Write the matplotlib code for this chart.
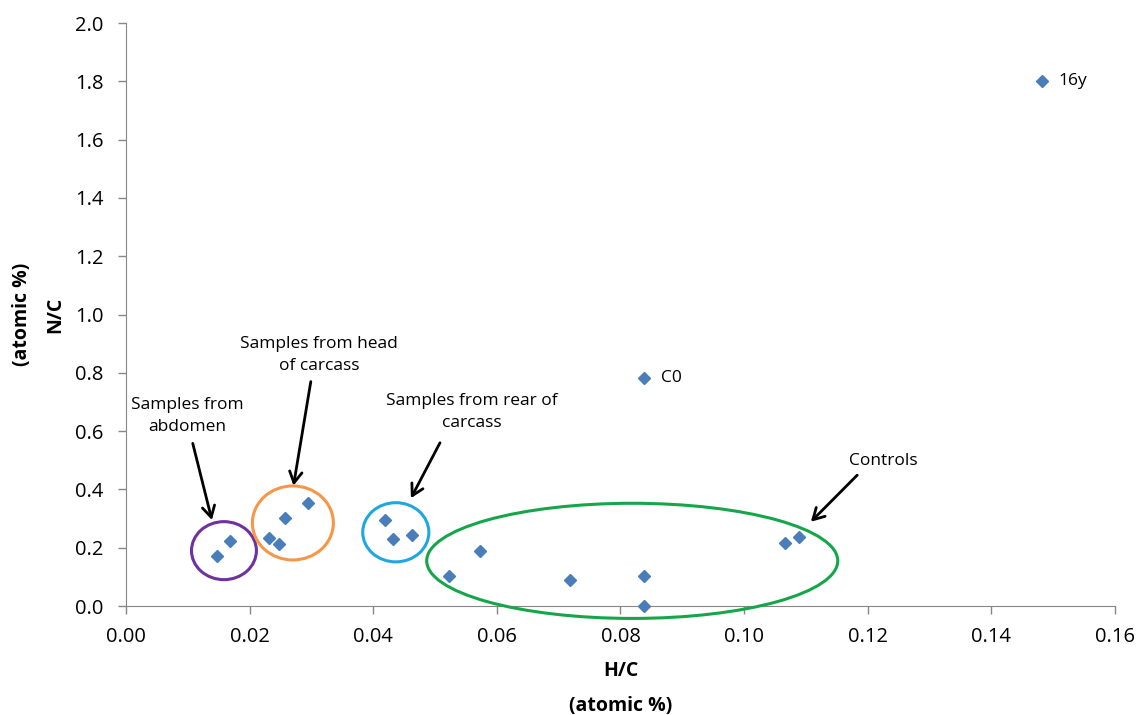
import numpy as np
import matplotlib
matplotlib.use("Agg")
import matplotlib.pyplot as plt
from matplotlib.patches import Ellipse

plt.rcParams['font.family'] = ['Open Sans', 'DejaVu Sans']

# H/C and N/C values (atomic %)
hc = [0.0148, 0.0168, 0.0231, 0.0248, 0.0258, 0.0295,
      0.0419, 0.0432, 0.0462,
      0.0523, 0.0573, 0.0718, 0.0838, 0.0838, 0.1066, 0.1089,
      0.0838, 0.1482]
nc = [0.173, 0.224, 0.232, 0.212, 0.303, 0.354,
      0.295, 0.229, 0.245,
      0.103, 0.189, 0.088, 0.103, 0.0, 0.215, 0.236,
      0.782, 1.801]

# labelled points
point_labels = ["C0", "16y"]
point_label_x = [0.0838, 0.1482]
point_label_y = [0.782, 1.801]

# group circles: centre x, centre y, width, height, colour
groups = ["abdomen", "head", "rear", "controls"]
grp_cx = [0.01585, 0.0270, 0.04365, 0.0819]
grp_cy = [0.190, 0.285, 0.253, 0.155]
grp_w = [0.0105, 0.0131, 0.0107, 0.0665]
grp_h = [0.199, 0.254, 0.203, 0.395]
grp_col = ["#7030A0", "#F79646", "#1FA7E1", "#16A64A"]

# annotations
ann_text = ["Samples from\nabdomen", "Samples from head\nof carcass",
            "Samples from rear of\ncarcass", "Controls"]
ann_tx = [0.0099, 0.0312, 0.0560, 0.1225]
ann_ty = [0.652, 0.861, 0.666, 0.497]
arr_tail_x = [0.0108, 0.0299, 0.0508, 0.1183]
arr_tail_y = [0.558, 0.770, 0.560, 0.449]
arr_head_x = [0.0139, 0.0271, 0.0461, 0.1108]
arr_head_y = [0.295, 0.413, 0.370, 0.289]


def main():
    fig = plt.figure(figsize=(11.36, 7.15), dpi=100)
    ax = fig.add_axes([0.1109, 0.1524, 0.8706, 0.8154])

    ax.plot(hc, nc, ls="none", marker="D", ms=6.2, color="#4A7EBB",
            markeredgecolor="#4A7EBB", zorder=5, clip_on=False)

    for lab, x, y in zip(point_labels, point_label_x, point_label_y):
        ax.annotate(lab, (x, y), xytext=(12, 0), textcoords="offset points",
                    va="center", ha="left", fontsize=12.5)

    for cx, cy, w, h, c in zip(grp_cx, grp_cy, grp_w, grp_h, grp_col):
        ax.add_patch(Ellipse((cx, cy), w, h, fill=False, ec=c, lw=2.2,
                             zorder=4, clip_on=False))

    for i, t in enumerate(ann_text):
        ax.text(ann_tx[i], ann_ty[i], t, ha="center", va="center",
                fontsize=12.5, linespacing=1.55)
        ax.annotate("", xy=(arr_head_x[i], arr_head_y[i]),
                    xytext=(arr_tail_x[i], arr_tail_y[i]),
                    arrowprops=dict(arrowstyle="->,head_length=0.8,head_width=0.45",
                                    color="black", lw=2, shrinkA=0, shrinkB=0))

    ax.set_xlim(0, 0.16)
    ax.set_ylim(0, 2.0)
    ax.set_xticks(np.arange(0, 0.161, 0.02))
    ax.set_yticks(np.arange(0, 2.01, 0.2))
    ax.xaxis.set_major_formatter(plt.FormatStrFormatter("%.2f"))
    ax.yaxis.set_major_formatter(plt.FormatStrFormatter("%.1f"))
    ax.tick_params(labelsize=14.5, color="#868686", length=6, width=1)
    ax.tick_params(axis="x", pad=9)
    ax.tick_params(axis="y", pad=10)
    for s in ["top", "right"]:
        ax.spines[s].set_visible(False)
    for s in ["left", "bottom"]:
        ax.spines[s].set_color("#868686")

    ax.text(0.5, -0.112, "H/C", transform=ax.transAxes, ha="center",
            va="center", fontsize=14, fontweight="bold")
    ax.text(0.5, -0.172, "(atomic %)", transform=ax.transAxes, ha="center",
            va="center", fontsize=14, fontweight="bold")
    ax.text(-0.072, 0.5, "N/C", transform=ax.transAxes, ha="center",
            va="center", fontsize=14, fontweight="bold", rotation=90)
    ax.text(-0.105, 0.5, "(atomic %)", transform=ax.transAxes, ha="center",
            va="center", fontsize=14, fontweight="bold", rotation=90)

    fig.savefig("out.png", dpi=100)


if __name__ == "__main__":
    main()
